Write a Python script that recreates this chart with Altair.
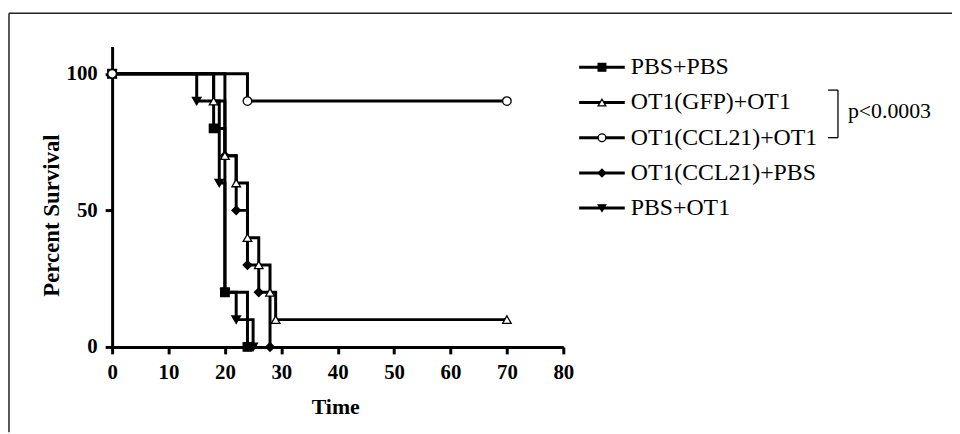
import altair as alt
import pandas as pd

# ---- data ----
groups = ["PBS+PBS", "OT1(GFP)+OT1", "OT1(CCL21)+OT1", "OT1(CCL21)+PBS", "PBS+OT1"]
shapes = ["square", "triangle-up", "circle", "diamond", "triangle-down"]
fills = ["black", "white", "white", "black", "black"]

t_pbs_pbs = [0, 18, 20, 24]
s_pbs_pbs = [100, 80, 20, 0]

t_gfp_ot1 = [0, 18, 20, 22, 24, 26, 28, 29, 70]
s_gfp_ot1 = [100, 90, 70, 60, 40, 30, 20, 10, 10]

t_ccl21_ot1 = [0, 24, 70]
s_ccl21_ot1 = [100, 90, 90]

t_ccl21_pbs = [0, 20, 22, 24, 26, 28]
s_ccl21_pbs = [100, 70, 50, 30, 20, 0]

t_pbs_ot1 = [0, 15, 19, 20, 22, 25]
s_pbs_ot1 = [100, 90, 60, 20, 10, 0]

x_ticks = [0, 10, 20, 30, 40, 50, 60, 70, 80]
y_ticks = [0, 50, 100]
p_label = "p<0.0003"

series_t = [t_pbs_pbs, t_gfp_ot1, t_ccl21_ot1, t_ccl21_pbs, t_pbs_ot1]
series_s = [s_pbs_pbs, s_gfp_ot1, s_ccl21_ot1, s_ccl21_pbs, s_pbs_ot1]

rows = []
for g, ts, ss in zip(groups, series_t, series_s):
    for t, s in zip(ts, ss):
        rows.append({"group": g, "time": t, "surv": s})
df = pd.DataFrame(rows)

# draw filled markers first, open markers on top
draw_order = ["PBS+OT1", "OT1(CCL21)+PBS", "PBS+PBS", "OT1(GFP)+OT1", "OT1(CCL21)+OT1"]
df_pts = pd.concat([df[df.group == g] for g in draw_order], ignore_index=True)

df_leg = pd.DataFrame({"group": groups, "row": list(range(len(groups)))})

FONT = "Liberation Serif"

x_enc = alt.X("time:Q", scale=alt.Scale(domain=[0, 80], nice=False),
              axis=alt.Axis(values=x_ticks, title="Time", titleX=225, titleY=60,
                            titleBaseline="middle"))
y_enc = alt.Y("surv:Q", scale=alt.Scale(domain=[0, 110], nice=False),
              axis=alt.Axis(values=y_ticks, title="Percent Survival", titleX=-61, titleY=170,
                            titleBaseline="middle", titleAngle=-90, titleFontSize=23))
shape_enc = alt.Shape("group:N", scale=alt.Scale(domain=groups, range=shapes), legend=None)
fill_enc = alt.Fill("group:N", scale=alt.Scale(domain=groups, range=fills), legend=None)

lines = alt.Chart(df).mark_line(interpolate="step-after", color="black", strokeWidth=3).encode(
    x=x_enc, y=y_enc, detail="group:N"
)
points = alt.Chart(df_pts).mark_point(filled=True, size=75, stroke="black", strokeWidth=1.3,
                                      opacity=1).encode(
    x=x_enc, y=y_enc, shape=shape_enc, fill=fill_enc
)
main = alt.layer(lines, points)

leg_y = alt.Y("row:Q", scale=alt.Scale(domain=[0, 4], range=[21, 163]), axis=None)
leg_rule = alt.Chart(df_leg).mark_rule(color="black", strokeWidth=3).encode(
    x=alt.value(471), x2=alt.value(517), y=leg_y
)
leg_pts = alt.Chart(df_leg).mark_point(filled=True, size=60, stroke="black", strokeWidth=1.3,
                                       opacity=1).encode(
    x=alt.value(494), y=leg_y, shape=shape_enc, fill=fill_enc
)
leg_text = alt.Chart(df_leg).mark_text(align="left", baseline="middle", font=FONT,
                                       fontSize=24, color="black").encode(
    x=alt.value(523), y=leg_y, text="group:N"
)
legend = alt.layer(leg_rule, leg_pts, leg_text)

one = alt.Data(values=[{"k": 1}])
br_v = alt.Chart(one).mark_rule(color="black", strokeWidth=1.3).encode(
    x=alt.value(732), y=alt.value(44), y2=alt.value(92))
br_t = alt.Chart(one).mark_rule(color="black", strokeWidth=1.3).encode(
    x=alt.value(722), x2=alt.value(732), y=alt.value(44))
br_b = alt.Chart(one).mark_rule(color="black", strokeWidth=1.3).encode(
    x=alt.value(722), x2=alt.value(732), y=alt.value(92))
p_text = alt.Chart(one).mark_text(align="left", baseline="middle", font=FONT, fontSize=22,
                                  color="black").encode(
    x=alt.value(742), y=alt.value(65), text=alt.value(p_label))

frame_top = alt.Chart(one).mark_rule(color="#222", strokeWidth=1.5).encode(
    x=alt.value(-104), x2=alt.value(847), y=alt.value(-33.5))
frame_left = alt.Chart(one).mark_rule(color="#222", strokeWidth=1.5).encode(
    x=alt.value(-104), y=alt.value(-33.5), y2=alt.value(389))

chart = alt.layer(main, legend, br_v, br_t, br_b, p_text, frame_top, frame_left).resolve_scale(
    y="independent"
).properties(
    width=455, height=303,
    autosize=alt.AutoSizeParams(type="none"),
    padding={"left": 105, "top": 37, "right": 392, "bottom": 86},
    background="white",
).configure_view(stroke=None).configure_axis(
    grid=False, domainColor="black", domainWidth=3, tickColor="black", tickWidth=3,
    tickSize=7, labelFont=FONT, labelFontWeight="bold", labelFontSize=21, labelColor="black",
    labelPadding=8, titleFont=FONT, titleFontWeight="bold", titleFontSize=22, titleColor="black",
    labelFlush=False, labelOverlap=False
)

chart.save("out.html", embed_options={"renderer": "svg", "actions": False})
